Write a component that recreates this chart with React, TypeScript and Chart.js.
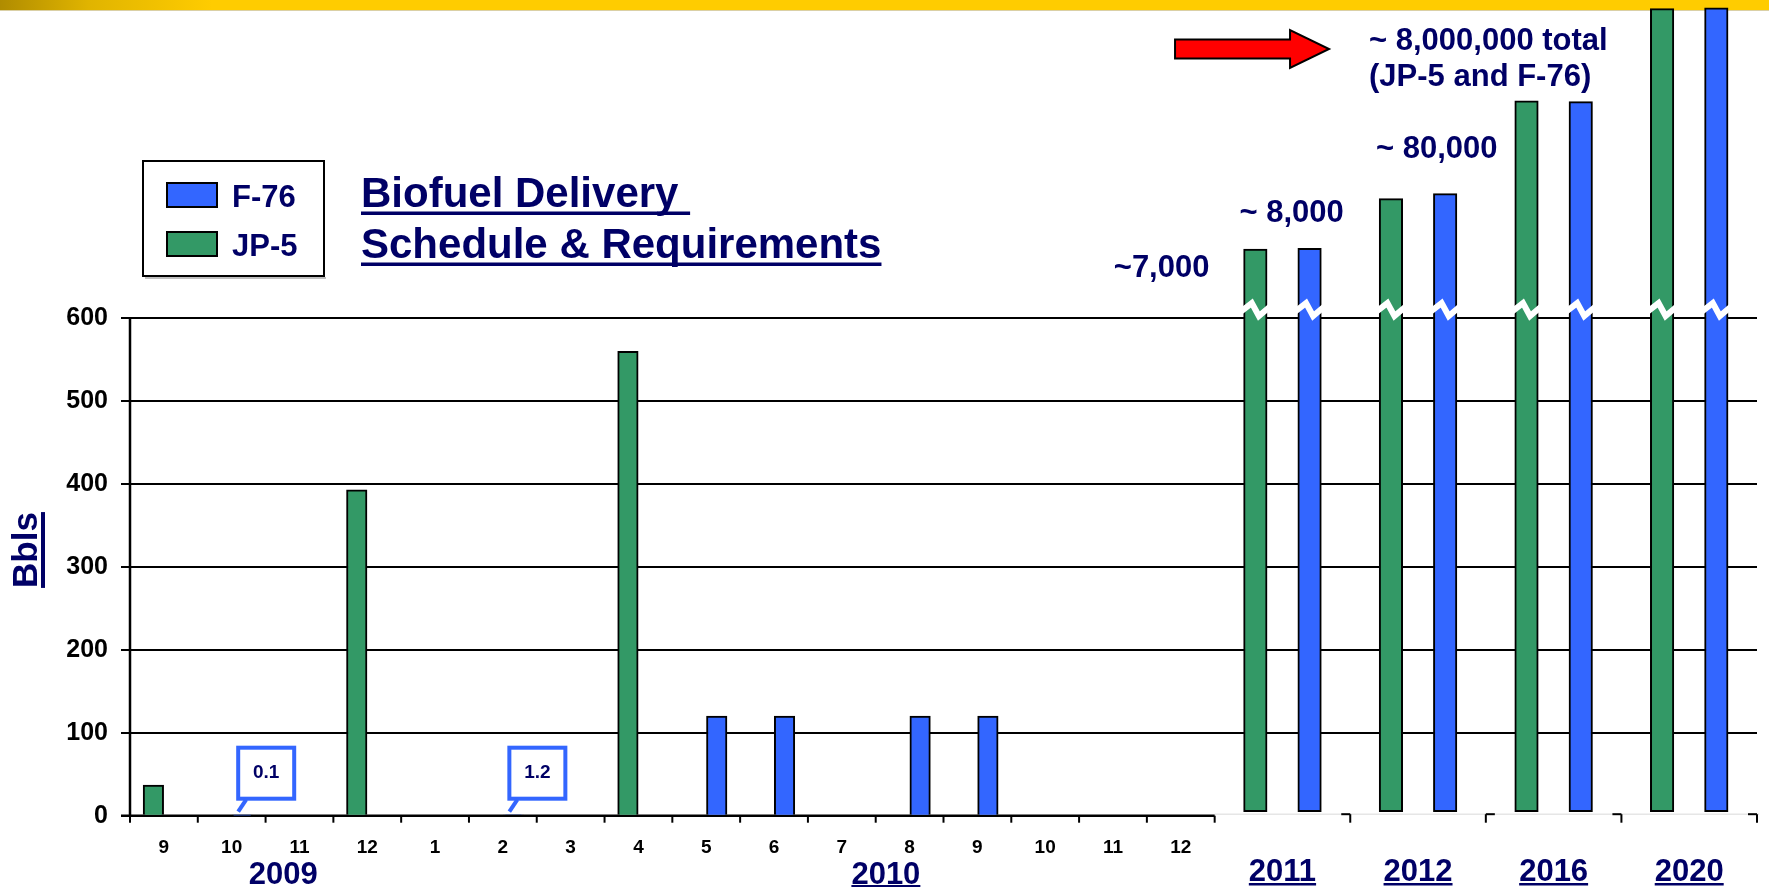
import React, { useEffect, useRef } from 'react';
import { Chart, registerables } from 'chart.js';

Chart.register(...registerables);

// ---------- data ----------
const monthLabels = ['9', '10', '11', '12', '1', '2', '3', '4', '5', '6', '7', '8', '9', '10', '11', '12'];
const jp5Monthly = [37, null, null, 393, null, null, null, 560, null, null, null, null, null, null, null, null];
const f76Monthly = [null, 0.1, null, null, null, 1.2, null, null, 120, 120, null, 120, 120, null, null, null];
const yearLabels = ['2011', '2012', '2016', '2020'];
// heights on the broken axis (drawn above the break at 600)
const jp5YearTop = [683, 744, 862, 973];
const f76YearTop = [684, 750, 861, 974];
const yearBarBase = 5;
const yTicks = [0, 100, 200, 300, 400, 500, 600];
const breakValue = 600;
const yMax = 975;
const monthGroups = [
  { text: '2009', slot: 2.26, underline: false },
  { text: '2010', slot: 11.15, underline: true },
];
const noteTexts = ['~7,000', '~ 8,000', '~ 80,000', '~ 8,000,000 total', '(JP-5 and F-76)'];
const titleLines = ['Biofuel Delivery ', 'Schedule & Requirements'];
const seriesNames = ['F-76', 'JP-5'];
const yTitle = 'Bbls';

// ---------- layout of the slot axis (units = month slots) ----------
const SLOTS_PER_YEAR = 2;
const TOTAL_SLOTS = monthLabels.length + yearLabels.length * SLOTS_PER_YEAR;
const MONTH_PAIR_SHIFT = 0.155; // half distance between JP-5 and F-76 inside a month slot
const YEAR_PAIR_SHIFT = 0.4; // same inside a year slot
const monthCentre = (i: number) => i + 0.5;
const yearCentre = (k: number) => monthLabels.length + SLOTS_PER_YEAR * k + SLOTS_PER_YEAR / 2;

// ---------- style ----------
const NAVY = '#000066';
const GREEN = '#339966';
const BLUE = '#3366FF';
const FONT = '"Liberation Sans", Arial, Helvetica, sans-serif';

const monthAxisLabels = [...monthLabels, ...Array(TOTAL_SLOTS - monthLabels.length).fill('')];
const jp5MonthlyPts = jp5Monthly
  .map((v, i) => ({ x: monthCentre(i) - MONTH_PAIR_SHIFT, y: v }))
  .filter((p) => p.y != null);
const f76MonthlyPts = f76Monthly
  .map((v, i) => ({ x: monthCentre(i) + MONTH_PAIR_SHIFT, y: v }))
  .filter((p) => p.y != null);
const jp5YearPts = jp5YearTop.map((t, k) => ({ x: yearCentre(k) - YEAR_PAIR_SHIFT, y: [yearBarBase, t] }));
const f76YearPts = f76YearTop.map((t, k) => ({ x: yearCentre(k) + YEAR_PAIR_SHIFT, y: [yearBarBase, t] }));

function underlineText(ctx: CanvasRenderingContext2D, text: string, x: number, y: number, align: CanvasTextAlign, thick: number, gap: number) {
  ctx.textAlign = align;
  ctx.fillText(text, x, y);
  const w = ctx.measureText(text).width;
  let left = x;
  if (align === 'center') left = x - w / 2;
  else if (align === 'right') left = x - w;
  ctx.fillRect(left, y + gap, w, thick);
}

function metaByLabel(chart: any, label: string) {
  const i = chart.data.datasets.findIndex((d: any) => d.label === label);
  return chart.getDatasetMeta(i);
}

const decor = {
  id: 'decor',
  beforeDraw(chart: any) {
    const ctx: CanvasRenderingContext2D = chart.ctx;
    ctx.save();
    const g = ctx.createLinearGradient(0, 0, chart.width, 0);
    g.addColorStop(0, '#b08c00');
    g.addColorStop(0.05, '#e0b400');
    g.addColorStop(0.12, '#ffcc00');
    g.addColorStop(1, '#ffcc00');
    ctx.fillStyle = g;
    ctx.fillRect(0, 0, chart.width, 10);
    ctx.fillStyle = 'rgba(150,120,0,0.35)';
    ctx.fillRect(0, 10, chart.width, 1);
    ctx.restore();
  },
  beforeDatasetsDraw(chart: any) {
    const ctx: CanvasRenderingContext2D = chart.ctx;
    const y = chart.scales.y;
    const xs = chart.scales.xs;
    const area = chart.chartArea;
    const zy = y.getPixelForValue(0);
    const monthEnd = xs.getPixelForValue(monthLabels.length);
    ctx.save();
    // right-section faint base line
    ctx.strokeStyle = '#e6e6e6';
    ctx.lineWidth = 1.5;
    ctx.beginPath();
    ctx.moveTo(monthEnd, zy - 1.5);
    ctx.lineTo(area.right + 2, zy - 1.5);
    ctx.stroke();
    // month axis line
    ctx.strokeStyle = '#000';
    ctx.lineWidth = 2.5;
    ctx.beginPath();
    ctx.moveTo(area.left - 9, zy);
    ctx.lineTo(monthEnd, zy);
    ctx.stroke();
    // y axis line up to the break
    ctx.beginPath();
    ctx.moveTo(area.left, zy + 1);
    ctx.lineTo(area.left, y.getPixelForValue(breakValue));
    ctx.stroke();
    // month ticks
    ctx.lineWidth = 2;
    for (let i = 0; i <= monthLabels.length; i++) {
      const px = xs.getPixelForValue(i);
      ctx.beginPath();
      ctx.moveTo(px, zy);
      ctx.lineTo(px, zy + 7);
      ctx.stroke();
    }
    // year section ticks
    for (let k = 1; k <= yearLabels.length; k++) {
      const px = xs.getPixelForValue(monthLabels.length + SLOTS_PER_YEAR * k);
      ctx.beginPath();
      ctx.moveTo(px, zy - 1.5);
      ctx.lineTo(px, zy + 7);
      ctx.stroke();
      const dir = k === 2 ? 1 : -1;
      ctx.beginPath();
      ctx.moveTo(px, zy - 1.5);
      ctx.lineTo(px + dir * 9, zy - 1.5);
      ctx.stroke();
    }
    ctx.restore();
  },
  afterDatasetsDraw(chart: any) {
    const ctx: CanvasRenderingContext2D = chart.ctx;
    const y = chart.scales.y;
    const xs = chart.scales.xs;
    const zy = y.getPixelForValue(0);
    const by = y.getPixelForValue(breakValue);
    ctx.save();
    // axis breaks on the year bars
    ['JP-5 (yearly)', 'F-76 (yearly)'].forEach((lab) => {
      const meta = metaByLabel(chart, lab);
      meta.data.forEach((el: any) => {
        const L = el.x - el.width / 2;
        const R = el.x + el.width / 2;
        const w = R - L;
        ctx.strokeStyle = '#ffffff';
        ctx.lineWidth = 6;
        ctx.lineJoin = 'miter';
        ctx.beginPath();
        ctx.moveTo(L - 6, by - 4);
        ctx.lineTo(L + w * 0.35, by - 15);
        ctx.lineTo(L + w * 0.65, by - 2);
        ctx.lineTo(R + 6, by - 14);
        ctx.stroke();
      });
    });
    // callouts for tiny F-76 values
    f76Monthly.forEach((v, i) => {
      if (v == null || v <= 0 || v >= 10) return;
      const bx = xs.getPixelForValue(monthCentre(i) + MONTH_PAIR_SHIFT);
      const left = bx - 6;
      const top = zy - 70;
      const w = 60;
      const h = 55;
      ctx.fillStyle = '#ffffff';
      ctx.fillRect(left, top, w, h);
      ctx.strokeStyle = BLUE;
      ctx.lineWidth = 4;
      ctx.strokeRect(left + 2, top + 2, w - 4, h - 4);
      ctx.lineCap = 'butt';
      ctx.beginPath();
      ctx.moveTo(left + 10, top + h - 1);
      ctx.lineTo(bx - 4, zy - 4);
      ctx.stroke();
      ctx.fillStyle = NAVY;
      ctx.font = `bold 19px ${FONT}`;
      ctx.textAlign = 'center';
      ctx.textBaseline = 'middle';
      ctx.fillText(String(v), left + w / 2, top + h / 2);
    });
    ctx.restore();
  },
  afterDraw(chart: any) {
    const ctx: CanvasRenderingContext2D = chart.ctx;
    const y = chart.scales.y;
    const xs = chart.scales.xs;
    const area = chart.chartArea;
    ctx.save();
    ctx.textBaseline = 'alphabetic';

    // legend box
    ctx.fillStyle = '#ffffff';
    ctx.fillRect(142, 160, 183, 117);
    ctx.strokeStyle = '#000';
    ctx.lineWidth = 2;
    ctx.strokeRect(143, 161, 181, 115);
    ctx.fillStyle = 'rgba(0,0,0,0.25)';
    ctx.fillRect(145, 277, 181, 2);
    const sw = [BLUE, GREEN];
    sw.forEach((c, k) => {
      const top = 183 + k * 49;
      ctx.fillStyle = c;
      ctx.fillRect(167, top, 50, 24);
      ctx.strokeStyle = '#000';
      ctx.lineWidth = 2;
      ctx.strokeRect(167, top, 50, 24);
      ctx.fillStyle = NAVY;
      ctx.font = `bold 31px ${FONT}`;
      ctx.textAlign = 'left';
      ctx.fillText(seriesNames[k], 232, top + 24);
    });

    // title
    ctx.fillStyle = NAVY;
    ctx.font = `bold 42px ${FONT}`;
    underlineText(ctx, titleLines[0], 361, 207, 'left', 3.5, 4.5);
    underlineText(ctx, titleLines[1], 361, 258, 'left', 3.5, 4.5);

    // y title
    ctx.save();
    ctx.translate(37, 550);
    ctx.rotate(-Math.PI / 2);
    ctx.font = `bold 35px ${FONT}`;
    underlineText(ctx, yTitle, 0, 0, 'center', 4, 4);
    ctx.restore();

    // year labels (month section)
    ctx.fillStyle = NAVY;
    ctx.font = `bold 31px ${FONT}`;
    monthGroups.forEach((gr) => {
      const px = xs.getPixelForValue(gr.slot);
      if (gr.underline) underlineText(ctx, gr.text, px, 884, 'center', 2.5, 1);
      else {
        ctx.textAlign = 'center';
        ctx.fillText(gr.text, px, 884);
      }
    });
    // year labels (year section)
    yearLabels.forEach((lab, k) => {
      const px = xs.getPixelForValue(yearCentre(k));
      underlineText(ctx, lab, px, 881, 'center', 2.5, 2);
    });

    // notes
    const c11 = xs.getPixelForValue(yearCentre(0));
    const c12 = xs.getPixelForValue(yearCentre(1));
    ctx.font = `bold 31px ${FONT}`;
    ctx.fillStyle = NAVY;
    ctx.textAlign = 'right';
    ctx.fillText(noteTexts[0], c11 - 73, y.getPixelForValue(jp5YearTop[0]) + 28);
    ctx.textAlign = 'left';
    ctx.fillText(noteTexts[1], c11 - 43, y.getPixelForValue(f76YearTop[0]) - 26);
    ctx.fillText(noteTexts[2], c12 - 42, y.getPixelForValue(f76YearTop[1]) - 36);
    const tx = c12 - 49;
    ctx.fillText(noteTexts[3], tx, area.top + 43);
    ctx.fillText(noteTexts[4], tx, area.top + 79);

    // red arrow
    const tip = tx - 40;
    const cy = area.top + 42;
    ctx.beginPath();
    ctx.moveTo(tip - 154, cy - 9.5);
    ctx.lineTo(tip - 39, cy - 9.5);
    ctx.lineTo(tip - 39, cy - 19);
    ctx.lineTo(tip, cy);
    ctx.lineTo(tip - 39, cy + 19);
    ctx.lineTo(tip - 39, cy + 9.5);
    ctx.lineTo(tip - 154, cy + 9.5);
    ctx.closePath();
    ctx.fillStyle = '#ff0000';
    ctx.fill();
    ctx.strokeStyle = '#000';
    ctx.lineWidth = 2;
    ctx.lineJoin = 'miter';
    ctx.stroke();
    ctx.restore();
  },
};

const barCommon = {
  xAxisID: 'xs',
  borderColor: '#000',
  borderWidth: 2,
  grouped: false,
  categoryPercentage: 1,
  barPercentage: 1,
};

export default function App() {
  const ref = useRef<HTMLCanvasElement | null>(null);
  useEffect(() => {
    document.body.style.margin = '0';
    const canvas = ref.current;
    if (!canvas) return;
    const chart = new Chart(canvas, {
      type: 'bar',
      data: {
        labels: monthAxisLabels,
        datasets: [
          { ...barCommon, label: 'JP-5', data: jp5MonthlyPts, backgroundColor: GREEN, maxBarThickness: 20.5 },
          { ...barCommon, label: 'F-76', data: f76MonthlyPts, backgroundColor: BLUE, maxBarThickness: 20.5 },
          { ...barCommon, label: 'JP-5 (yearly)', data: jp5YearPts, backgroundColor: GREEN, borderSkipped: false, maxBarThickness: 23.5 },
          { ...barCommon, label: 'F-76 (yearly)', data: f76YearPts, backgroundColor: BLUE, borderSkipped: false, maxBarThickness: 23.5 },
        ] as any,
      },
      options: {
        responsive: false,
        animation: false,
        devicePixelRatio: 1,
        events: [],
        layout: { padding: { top: 7, right: 12, left: 0, bottom: 0 } },
        plugins: {
          legend: { display: false },
          tooltip: { enabled: false },
          title: { display: false },
        },
        scales: {
          x: {
            type: 'category',
            position: 'bottom',
            offset: true,
            grid: { display: false, drawTicks: false },
            border: { display: false },
            ticks: {
              autoSkip: false,
              maxRotation: 0,
              minRotation: 0,
              padding: 21,
              color: '#000',
              font: { family: FONT, size: 19, weight: 'bold' },
            },
            afterFit: (s: any) => {
              s.height = 71.3;
              s.paddingLeft = 0;
              s.paddingRight = 0;
            },
          },
          xs: {
            type: 'linear',
            position: 'bottom',
            min: 0,
            max: TOTAL_SLOTS,
            offset: false,
            display: false,
            ticks: { stepSize: 1 },
          },
          y: {
            type: 'linear',
            min: 0,
            max: yMax,
            border: { display: false },
            grid: {
              color: (c: any) => (c.tick && c.tick.value === 0 ? 'rgba(0,0,0,0)' : '#000'),
              lineWidth: 2,
              tickLength: 9,
              drawTicks: true,
            },
            ticks: {
              padding: 13,
              color: '#000',
              font: { family: FONT, size: 25, weight: 'bold' },
            },
            afterBuildTicks: (s: any) => {
              s.ticks = yTicks.map((v) => ({ value: v }));
            },
            afterFit: (s: any) => {
              s.width = 130;
              s.paddingTop = 0;
              s.paddingBottom = 0;
            },
          },
        },
      } as any,
      plugins: [decor as any],
    });
    return () => chart.destroy();
  }, []);
  return (
    <div style={{ width: 1769, height: 887, position: 'relative', background: '#fff' }}>
      <canvas ref={ref} width={1769} height={887} style={{ display: 'block', width: 1769, height: 887 }} />
    </div>
  );
}
